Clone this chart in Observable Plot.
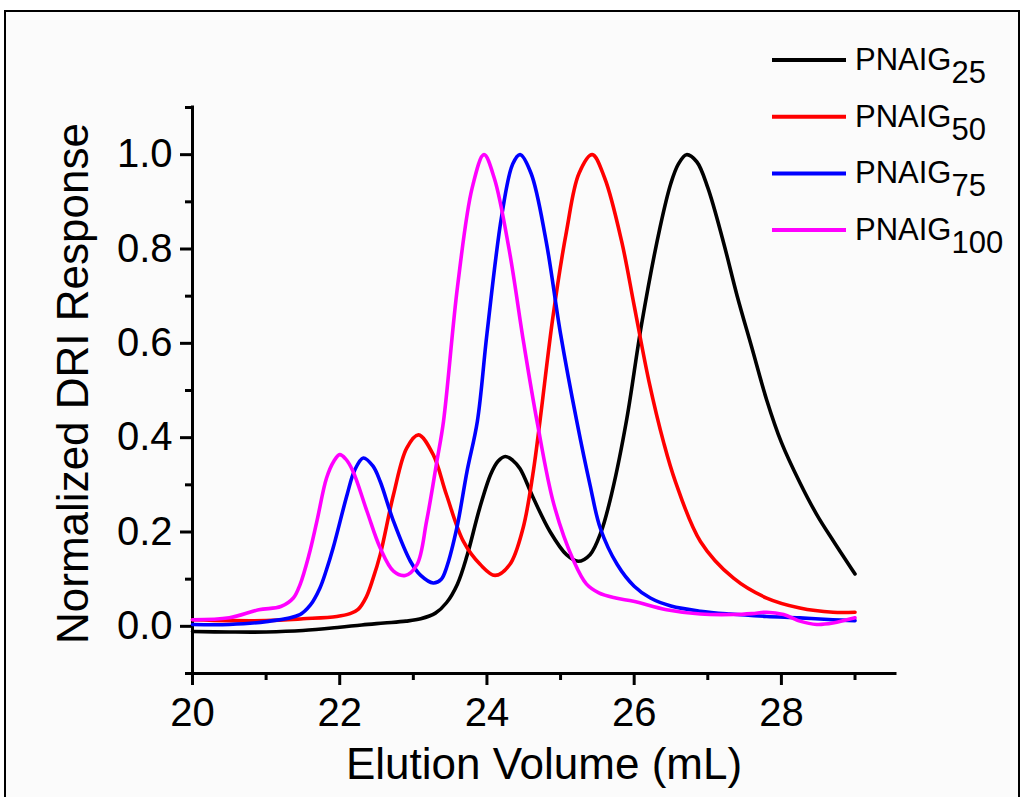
<!DOCTYPE html>
<html><head><meta charset="utf-8">
<script src="https://cdn.jsdelivr.net/npm/d3@7"></script>
<script src="https://cdn.jsdelivr.net/npm/@observablehq/plot@0.6"></script>
<style>
html,body{margin:0;padding:0;background:#fff;width:1024px;height:797px;overflow:hidden;font-family:"Liberation Sans",Arial,sans-serif;}
#frame{position:absolute;left:4px;top:10px;width:1016px;height:830px;border:2px solid #000;background:#fbfbfb;box-sizing:border-box;}
#chart{position:absolute;left:0;top:0;}
#legend{position:absolute;left:0;top:0;}
</style></head><body>
<div id="frame"></div><div id="chart"></div><div id="legend"></div>
<script>
// ---- data ----
const seriesBase = "PNAIG";
const seriesSub = ["25", "50", "75", "100"];
const seriesColors = ["#000000", "#ff0000", "#0000ff", "#ff00ff"];

const x25 = [20.0,20.5,21.0,21.5,22.0,22.3,22.6,22.9,23.1,23.3,23.45,23.6,23.73,23.9,24.05,24.15,24.25,24.35,24.45,24.63,24.86,25.08,25.24,25.4,25.55,25.7,25.9,26.1,26.35,26.5,26.6,26.71,26.85,27.0,27.21,27.4,27.6,27.8,28.0,28.25,28.48,28.71,29.0];
const y25 = [-0.011,-0.012,-0.012,-0.009,-0.002,0.003,0.007,0.011,0.016,0.028,0.05,0.09,0.15,0.25,0.322,0.35,0.36,0.352,0.334,0.272,0.2,0.152,0.138,0.152,0.2,0.285,0.44,0.64,0.845,0.94,0.98,1.0,0.985,0.93,0.816,0.7,0.59,0.48,0.39,0.305,0.237,0.18,0.111];

const x50 = [20.0,20.5,21.0,21.5,21.96,22.14,22.25,22.36,22.45,22.55,22.73,22.91,23.07,23.27,23.45,23.68,23.91,24.11,24.31,24.49,24.63,24.72,24.9,25.08,25.25,25.43,25.6,25.83,26.0,26.2,26.4,26.56,26.9,27.35,27.8,28.25,28.7,29.0];
const y50 = [0.014,0.012,0.012,0.016,0.021,0.027,0.036,0.062,0.1,0.152,0.279,0.378,0.406,0.364,0.279,0.18,0.131,0.108,0.131,0.208,0.329,0.435,0.66,0.837,0.96,1.0,0.95,0.816,0.68,0.52,0.39,0.307,0.18,0.102,0.06,0.039,0.03,0.03];

const x75 = [20.0,20.5,21.0,21.46,21.6,21.73,21.82,21.91,22.1,22.2,22.32,22.45,22.55,22.73,22.96,23.1,23.27,23.38,23.45,23.59,23.73,23.87,24.0,24.2,24.35,24.45,24.6,24.8,25.0,25.22,25.4,25.54,25.77,26.0,26.22,26.5,26.9,27.3,27.8,28.25,28.7,29.0];
const y75 = [0.004,0.004,0.01,0.025,0.045,0.081,0.12,0.166,0.279,0.33,0.357,0.34,0.307,0.223,0.138,0.108,0.092,0.1,0.124,0.208,0.329,0.435,0.62,0.87,0.98,1.0,0.96,0.82,0.62,0.435,0.3,0.208,0.131,0.085,0.06,0.043,0.032,0.026,0.021,0.018,0.014,0.012];

const x100 = [20.0,20.5,20.9,21.2,21.37,21.46,21.58,21.69,21.82,21.92,22.0,22.08,22.18,22.37,22.55,22.73,22.89,23.05,23.18,23.32,23.41,23.6,23.8,23.96,24.1,24.3,24.5,24.68,24.91,25.18,25.35,25.52,25.75,25.99,26.44,26.9,27.35,27.6,27.8,28.03,28.25,28.48,28.7,29.0];
const y100 = [0.014,0.018,0.035,0.042,0.06,0.088,0.15,0.223,0.314,0.35,0.364,0.355,0.329,0.244,0.166,0.117,0.108,0.131,0.223,0.35,0.435,0.72,0.93,1.0,0.95,0.8,0.6,0.435,0.258,0.138,0.09,0.071,0.06,0.053,0.035,0.026,0.025,0.027,0.03,0.025,0.011,0.004,0.007,0.018];

const xDomain = [20, 29.55];
const yDomain = [-0.1, 1.1];
const xMajor = [20, 22, 24, 26, 28];
const xMinor = [21, 23, 25, 27, 29];
const yMajor = [0, 0.2, 0.4, 0.6, 0.8, 1.0];
const yMinor = [-0.1, 0.1, 0.3, 0.5, 0.7, 0.9, 1.1];
const xTitle = "Elution Volume (mL)";
const yTitle = "Normalized DRI Response";

// ---- build ----
const allX = [x25, x50, x75, x100];
const allY = [y25, y50, y75, y100];
const tables = allX.map((xs, i) => xs.map((x, j) => ({x, y: allY[i][j]})));

const font = "Liberation Sans, Arial, sans-serif";

const chart = Plot.plot({
  width: 1024,
  height: 797,
  marginLeft: 192,
  marginRight: 129,
  marginTop: 107,
  marginBottom: 124,
  style: {background: "transparent", color: "#000", fontFamily: font},
  x: {domain: xDomain, axis: null},
  y: {domain: yDomain, axis: null},
  marks: [
    Plot.axisX({ticks: xMajor, tickSize: 12, tickPadding: 12, fontSize: 40, strokeWidth: 3, label: null, tickFormat: d => String(d)}),
    Plot.axisX({ticks: xMinor, tickSize: 7, strokeWidth: 3, label: null, tickFormat: () => ""}),
    Plot.axisY({ticks: yMajor, tickSize: 12, tickPadding: 8, fontSize: 40, strokeWidth: 3, label: null, tickFormat: d3.format(".1f")}),
    Plot.axisY({ticks: yMinor, tickSize: 7, strokeWidth: 3, label: null, tickFormat: () => ""}),
    Plot.ruleY([yDomain[0]], {x1: xDomain[0], x2: xDomain[1], strokeWidth: 3, strokeLinecap: "square"}),
    Plot.ruleX([xDomain[0]], {y1: yDomain[0], y2: yDomain[1], strokeWidth: 3, strokeLinecap: "square"}),
    ...tables.map((t, i) => Plot.line(t, {x: "x", y: "y", stroke: seriesColors[i], strokeWidth: 3.6, curve: "catmull-rom"})),
    Plot.text([xTitle], {frameAnchor: "bottom", dy: 105, lineAnchor: "bottom", textAnchor: "middle", fontSize: 44, fontFamily: font}),
    Plot.text([yTitle], {frameAnchor: "left", dx: -105, dy: -7, rotate: -90, lineAnchor: "bottom", textAnchor: "middle", fontSize: 44, fontFamily: font})
  ]
});
document.getElementById("chart").appendChild(chart);

// ---- legend ----
const lg = d3.select("#legend").append("svg").attr("width", 1024).attr("height", 260);
const rowY0 = 60, rowStep = 56.7;
seriesSub.forEach((s, i) => {
  const y = rowY0 + i * rowStep;
  lg.append("line").attr("x1", 772).attr("x2", 846).attr("y1", y).attr("y2", y)
    .attr("stroke", seriesColors[i]).attr("stroke-width", 4);
  const t = lg.append("text").attr("x", 855).attr("y", y + 10)
    .attr("font-family", font).attr("font-size", 31).attr("fill", "#000");
  t.append("tspan").text(seriesBase);
  t.append("tspan").attr("dy", 13).attr("font-size", 31).text(s);
});
</script>
</body></html>
